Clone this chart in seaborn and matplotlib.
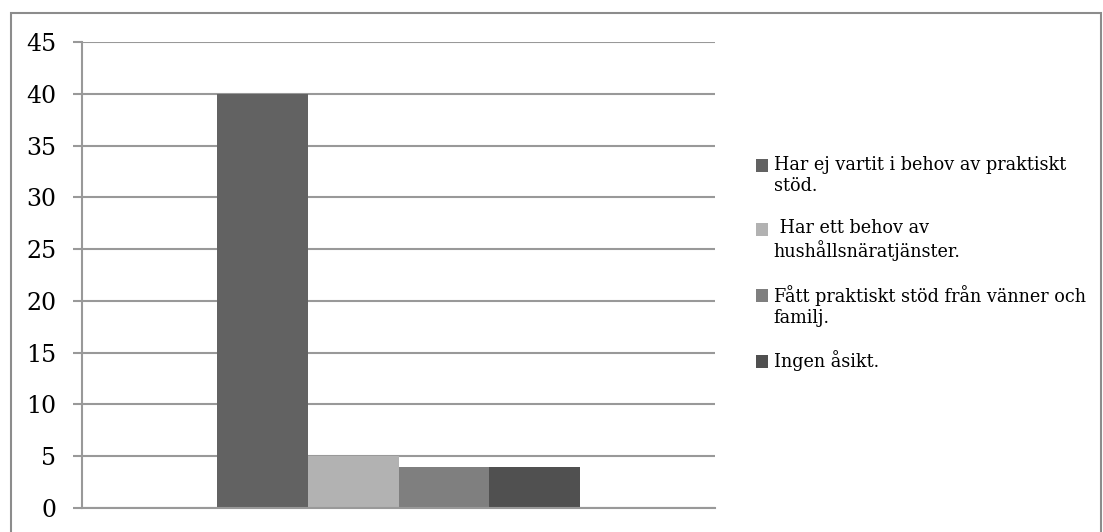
import matplotlib
matplotlib.use("Agg")
import matplotlib.pyplot as plt
import matplotlib.patches as mpatches
from matplotlib.legend_handler import HandlerPatch
import seaborn as sns
import pandas as pd

series = [
    "Har ej vartit i behov av praktiskt\nstöd.",
    " Har ett behov av\nhushållsnäratjänster.",
    "Fått praktiskt stöd från vänner och\nfamilj.",
    "Ingen åsikt.",
]
values = [40, 5, 4, 4]
colors = ["#626262", "#b2b2b2", "#7f7f7f", "#505050"]
yticks = [0, 5, 10, 15, 20, 25, 30, 35, 40, 45]

df = pd.DataFrame({"cat": [""] * len(series), "serie": series, "antal": values})

sns.set_theme(style="white")
plt.rcParams["font.family"] = ["DejaVu Serif"]
plt.rcParams["text.color"] = "black"

fig = plt.figure(figsize=(11.03, 5.32), dpi=100)
ax = fig.add_axes([82 / 1103, 1 - 508 / 532, (715 - 82) / 1103, (508 - 42) / 532])

sns.barplot(data=df, x="cat", y="antal", hue="serie", hue_order=series,
            palette=colors, width=0.575, gap=0, saturation=1, ax=ax,
            legend=False, edgecolor="none", linewidth=0)

ax.set_xlim(-0.5, 0.5)
ax.set_ylim(0, 45)
ax.set_yticks(yticks)
ax.set_xticks([])
ax.set_xlabel("")
ax.set_ylabel("")
grid_c = "#999999"
ax.yaxis.grid(True, color=grid_c, linewidth=1.5, zorder=0)
ax.set_axisbelow(True)
for s in ["top", "right"]:
    ax.spines[s].set_visible(False)
ax.spines["left"].set_color(grid_c)
ax.spines["left"].set_linewidth(1.5)
ax.spines["bottom"].set_color(grid_c)
ax.spines["bottom"].set_linewidth(1.5)
ax.tick_params(axis="y", which="major", left=True, length=6.5, width=1.5,
               color=grid_c, labelsize=17, labelcolor="black", pad=12)


class FirstLinePatch(HandlerPatch):
    """Square legend key aligned with the first line of a wrapped label."""

    def __init__(self, shift=0.0, **kw):
        super().__init__(**kw)
        self.shift = shift

    def create_artists(self, legend, orig_handle, xdescent, ydescent,
                       width, height, fontsize, trans):
        p = mpatches.Rectangle((-xdescent, -ydescent + self.shift), width, height,
                               facecolor=orig_handle.get_facecolor(), edgecolor="none")
        p.set_transform(trans)
        return [p]


handles = [mpatches.Patch(facecolor=c, edgecolor="none") for c in colors]
handler_map = {h: FirstLinePatch(shift=(8.0 if "\n" in s else 0.0))
               for h, s in zip(handles, series)}
fig.legend(handles, series, loc="upper left", bbox_to_anchor=(756 / 1103, 1 - 156 / 532),
           frameon=False, fontsize=12.7, handlelength=0.7, handleheight=0.75,
           handletextpad=0.3, labelspacing=1.35, borderaxespad=0, borderpad=0,
           labelcolor="black", handler_map=handler_map)

# outer chart frame
fig.patches.append(mpatches.Rectangle((11 / 1103, -0.01), (1101 - 11) / 1103, 1 - 13 / 532 + 0.01,
                                      transform=fig.transFigure, fill=False,
                                      edgecolor="#8c8c8c", linewidth=1.5))

fig.savefig("out.png", dpi=100)
